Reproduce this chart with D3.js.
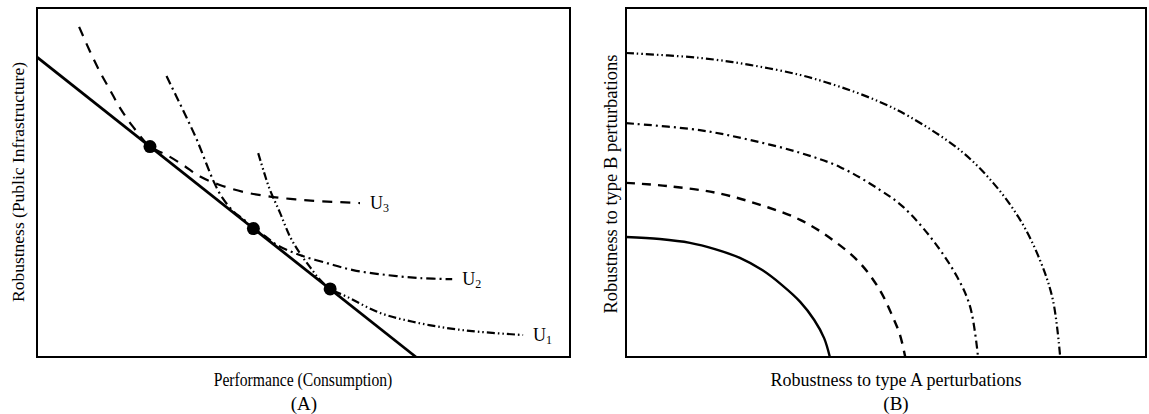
<html>
<head>
	<title>Robustness trade-off</title>
	<style>
		body { margin: 0; background: white; }
		text { font-family: "Liberation Serif", "Times New Roman", serif; fill: black; }
	</style>
</head>
<body>
	<div id="chart"></div>
	<script src="https://d3js.org/d3.v7.min.js" charset="utf-8"></script>
	<script>
		// panel A: budget line, tangency points and three indifference curves (x, y in 0..100)
		var budgetLine = [[0, 85.9], [71.1, 0]];
		var tangentPoints = [[21.2, 60.3], [40.6, 36.8], [55.0, 19.5]];
		var curveU3 = [[7.9, 94.6], [9.9, 87.7], [11.8, 81.7], [13.7, 76.5], [15.6, 71.3], [18.0, 66.0], [21.2, 60.3],
			[24.3, 57.9], [27.4, 55.0], [30.6, 51.7], [34.3, 49.3], [38.7, 47.3], [43.1, 46.1], [47.5, 45.3],
			[52.5, 44.7], [60.6, 44.1]];
		var curveU2 = [[24.3, 80.5], [26.2, 74.5], [28.1, 68.5], [30.0, 62.2], [31.8, 55.3], [33.2, 50.1], [34.7, 45.8],
			[36.8, 41.8], [38.8, 39.4], [40.6, 36.8], [42.8, 34.6], [45.0, 32.1], [49.3, 29.2], [54.4, 26.9],
			[59.3, 24.9], [65.6, 23.5], [71.9, 22.6], [77.9, 22.3]];
		var curveU1 = [[41.5, 58.4], [42.6, 52.9], [43.7, 47.9], [45.6, 41.3], [47.5, 34.4], [49.3, 29.8], [51.2, 25.8],
			[53.1, 22.1], [55.0, 19.5], [58.1, 17.3], [64.4, 12.6], [70.5, 10.1], [76.9, 8.3], [83.1, 7.2], [91.2, 6.3]];
		var curveNamesA = ["U3", "U2", "U1"];

		// panel B: four robustness frontiers, inner to outer
		var frontier1 = [[0, 34.4], [6.5, 33.8], [12.3, 32.7], [17.1, 30.9], [21.9, 28.4], [26.2, 24.9], [30.0, 20.6],
			[33.5, 15.8], [36.2, 10.6], [38.1, 5.4], [39.2, 0]];
		var frontier2 = [[0, 49.9], [7.9, 49.0], [17.5, 47.0], [25.8, 43.6], [33.5, 39.3], [39.8, 33.5], [45.0, 26.9],
			[48.8, 19.2], [51.3, 11.5], [52.7, 6.3], [53.7, 0]];
		var frontier3 = [[0, 67.0], [14.2, 65.0], [23.8, 62.2], [33.5, 58.5], [41.2, 54.4], [48.8, 47.9], [53.3, 43.0],
			[59.0, 33.5], [63.7, 22.9], [66.2, 14.3], [67.7, 0]];
		var frontier4 = [[0, 87.1], [14.2, 85.7], [23.8, 83.7], [33.5, 80.8], [41.2, 77.4], [48.8, 73.1], [54.6, 68.8],
			[64.2, 59.3], [70.6, 49.9], [75.8, 39.3], [79.6, 27.8], [82.1, 16.3], [83.5, 0]];

		var svg = d3.select("#chart").append("svg").attr("width", 1149).attr("height", 414);

		var xA = d3.scaleLinear().domain([0, 100]).range([37, 570]);
		var yA = d3.scaleLinear().domain([0, 100]).range([357, 8]);
		var xB = d3.scaleLinear().domain([0, 100]).range([626, 1146]);
		var yB = yA;

		function drawCurve(pts, xs, ys, dash, width) {
			var line = d3.line()
				.x(function(d) { return xs(d[0]); })
				.y(function(d) { return ys(d[1]); })
				.curve(d3.curveCatmullRom.alpha(0.5));
			svg.append("path")
				.attr("d", line(pts))
				.attr("fill", "none")
				.attr("stroke", "black")
				.attr("stroke-width", width)
				.attr("stroke-dasharray", dash);
		}

		function drawFrame(xs, ys) {
			svg.append("rect")
				.attr("x", xs(0)).attr("y", ys(100))
				.attr("width", xs(100) - xs(0)).attr("height", ys(0) - ys(100))
				.attr("fill", "none").attr("stroke", "black").attr("stroke-width", 2);
		}

		// ---- panel A ----
		drawCurve(curveU3, xA, yA, "10,8", 2.2);
		drawCurve(curveU2, xA, yA, "9,4,2,4", 2.2);
		drawCurve(curveU1, xA, yA, "8,3,1.5,3,1.5,3", 2.2);
		drawCurve(budgetLine, xA, yA, null, 2.8);

		svg.selectAll("circle.tan").data(tangentPoints).enter().append("circle")
			.attr("class", "tan")
			.attr("cx", function(d) { return xA(d[0]); })
			.attr("cy", function(d) { return yA(d[1]); })
			.attr("r", 6.5)
			.attr("fill", "black");

		[curveU3, curveU2, curveU1].forEach(function(c, i) {
			var last = c[c.length - 1];
			var lab = svg.append("text")
				.attr("x", xA(last[0]) + 10)
				.attr("y", yA(last[1]) + 6)
				.attr("font-size", 18);
			lab.append("tspan").text(curveNamesA[i][0]);
			lab.append("tspan").attr("font-size", 12).attr("dy", 3).text(curveNamesA[i][1]);
		});

		drawFrame(xA, yA);

		// the x label is narrower than it is tall in the original scan
		svg.append("text").attr("transform", "translate(303,386) scale(0.87,1)").attr("text-anchor", "middle")
			.attr("font-size", 18).text("Performance (Consumption)");
		svg.append("text").attr("x", 304).attr("y", 410).attr("text-anchor", "middle")
			.attr("font-size", 19).text("(A)");
		svg.append("text").attr("transform", "translate(24,182) rotate(-90)").attr("text-anchor", "middle")
			.attr("font-size", 17.5).text("Robustness (Public Infrastructure)");

		// ---- panel B ----
		drawCurve(frontier1, xB, yB, null, 2.4);
		drawCurve(frontier2, xB, yB, "9,7", 2.4);
		drawCurve(frontier3, xB, yB, "8,4,2,4", 2.2);
		drawCurve(frontier4, xB, yB, "8,3,1.5,3,1.5,3", 2.2);

		drawFrame(xB, yB);

		svg.append("text").attr("x", 896).attr("y", 386).attr("text-anchor", "middle")
			.attr("font-size", 18).text("Robustness to type A perturbations");
		svg.append("text").attr("x", 896).attr("y", 410).attr("text-anchor", "middle")
			.attr("font-size", 19).text("(B)");
		svg.append("text").attr("transform", "translate(617,184) rotate(-90)").attr("text-anchor", "middle")
			.attr("font-size", 18.5).text("Robustness to type B perturbations");
	</script>
</body>
</html>
